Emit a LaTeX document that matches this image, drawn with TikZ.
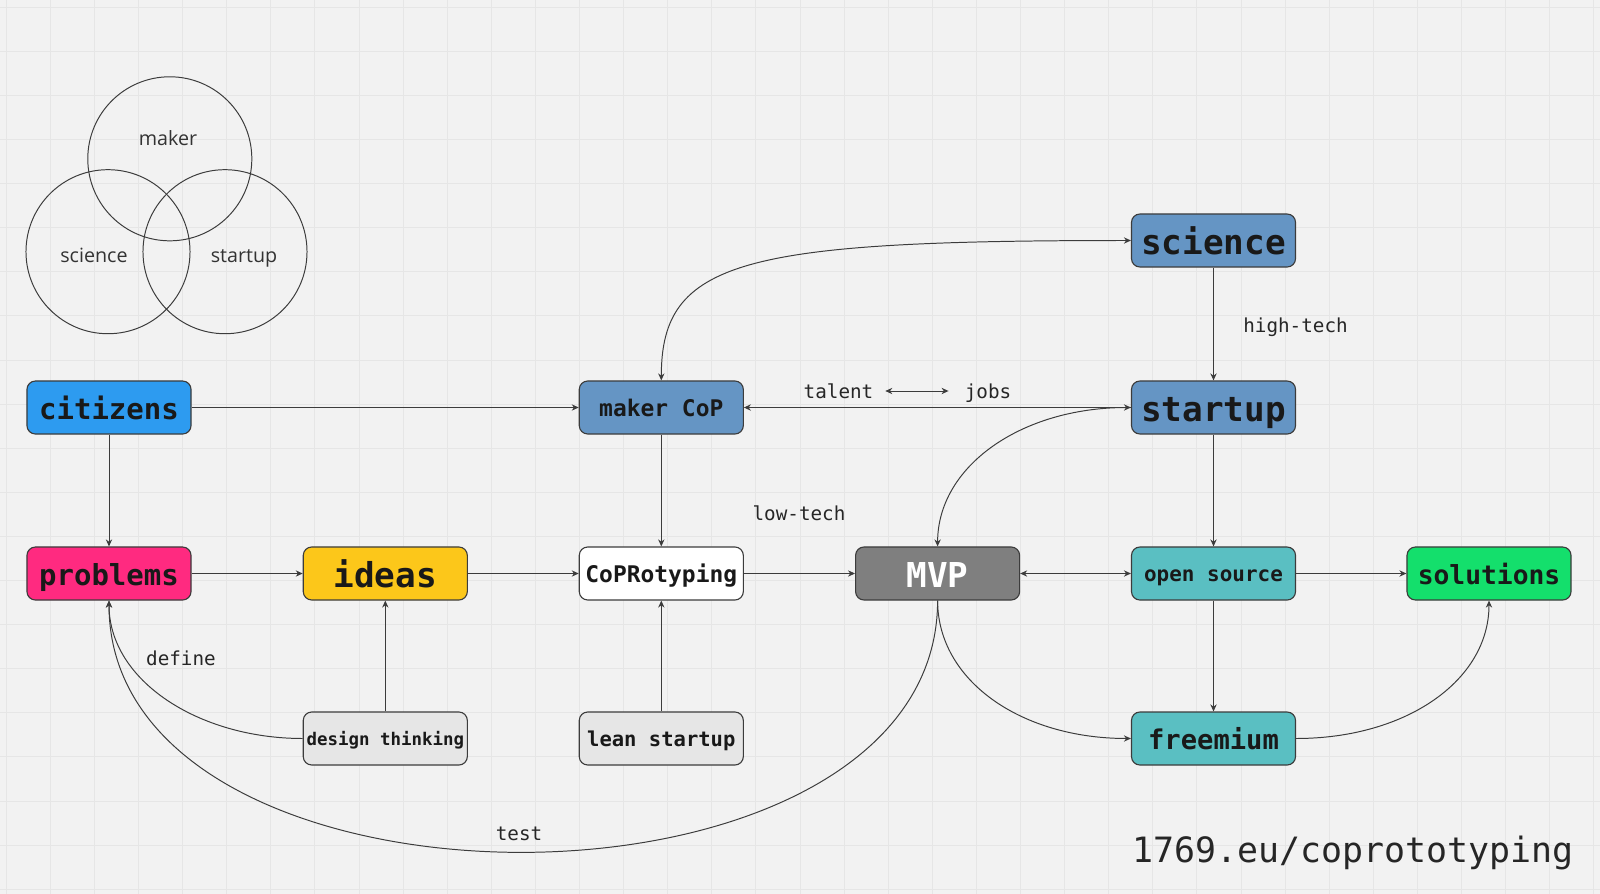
\documentclass[tikz,border=0pt]{standalone}
\usepackage{fontspec}
\setmainfont{Open Sans}
\setmonofont{DejaVu Sans Mono}
\usetikzlibrary{arrows.meta}

\definecolor{paper}{HTML}{F2F2F2}
\definecolor{gridline}{HTML}{E6E6E6}
\definecolor{ink}{HTML}{3C3C3C}
\definecolor{citblue}{HTML}{2D9BF0}
\definecolor{probpink}{HTML}{FF2A80}
\definecolor{ideayellow}{HTML}{FCC71A}
\definecolor{copblue}{HTML}{6595C4}
\definecolor{mvpgray}{HTML}{7F7F7F}
\definecolor{ostea}{HTML}{5ABFC2}
\definecolor{solgreen}{HTML}{14DF6C}
\definecolor{methgray}{HTML}{E6E6E6}

\tikzset{
  box/.style={draw=ink, line width=0.8pt, rounded corners=6pt,
    minimum width=4.1cm, minimum height=1.325cm, inner sep=0pt,
    text height=0.8*#1pt, text depth=0pt,
    text=black!90, font=\ttfamily\bfseries\fontsize{#1}{#1}\selectfont},
  link/.style={draw=ink, line width=0.7pt, ->},
  tag/.style={text=black!85, text height=0.74*#1pt, text depth=0pt,
    font=\ttfamily\fontsize{#1}{#1}\selectfont},
  venn/.style={draw=ink, line width=0.7pt, circle, minimum size=4.1cm, inner sep=0pt},
  vennlabel/.style={text=black!80, text height=10pt, text depth=0pt,
    font=\fontsize{14}{14}\selectfont},
}

\begin{document}
\begin{tikzpicture}[x=0.025cm, y=-0.025cm, >={Stealth[length=5pt,width=4.5pt]}]
        \fill[paper] (0,0) rectangle (1600,894);                        %canvas
        \useasboundingbox (0,0) rectangle (1600,894);
        \foreach \gx in {0,...,36} \draw[gridline, line width=0.4pt] (6+44.1*\gx,0) -- ++(0,894);
        \foreach \gy in {0,...,20} \draw[gridline, line width=0.4pt] (0,7+44.1*\gy) -- ++(1600,0);

        % venn
        \node[venn] (vmaker)   at (169.8,158.8) {};
        \node[venn] (vscience) at (108,251.7)   {};
        \node[venn] (vstartup) at (225,251.7)   {};
        \node[vennlabel] (lmaker)   at (168,138) {maker};
        \node[vennlabel] (lscience) at (94,255)  {science};
        \node[vennlabel] (lstartup) at (244,255) {startup};

        % boxes
        \node[box=24.4, fill=copblue]    (science)   at (1213.5,240.5) {science};
        \node[box=20.6, fill=citblue]    (citizens)  at (109,407.5)    {citizens};
        \node[box=16.3, fill=copblue]    (makercop)  at (661.3,407.5)  {maker CoP};
        \node[box=24.4, fill=copblue]    (startup)   at (1213.5,407.5) {startup};
        \node[box=20.6, fill=probpink]   (problems)  at (109,573.5)    {problems};
        \node[box=24.4, fill=ideayellow] (ideas)     at (385.3,573.5)  {ideas};
        \node[box=16.3, fill=white]      (coproto)   at (661.3,573.5)  {CoPRotyping};
        \node[box=24.4, fill=mvpgray, text=white] (mvp) at (937.6,573.5) {MVP};
        \node[box=14.9, fill=ostea]      (opensrc)   at (1213.5,573.5) {open source};
        \node[box=18.7, fill=solgreen]   (solutions) at (1489,573.5)   {solutions};
        \node[box=12.4, fill=methgray]   (design)    at (385.3,738.5)  {design thinking};
        \node[box=14.6, fill=methgray]   (lean)      at (661.3,738.5)  {lean startup};
        \node[box=19.3, fill=ostea]      (freemium)  at (1213.5,738.5) {freemium};

        % labels
        \node[tag=13.7] (talent)   at (838.5,391) {talent};
        \node[tag=13.7] (jobs)     at (988,391)   {jobs};
        \node[tag=13.7] (lowtech)  at (799,513)   {low-tech};
        \node[tag=13.7] (hightech) at (1295.5,325) {high-tech};
        \node[tag=13.7] (define)   at (181,658)   {define};
        \node[tag=13.7] (test)     at (519,833)   {test};
        \node[tag=24.8] (url)      at (1353,850)  {1769.eu/coprototyping};

        % straight links
        \draw[link] (citizens.east) -- (makercop.west);
        \draw[link] (citizens.south) -- (problems.north);
        \draw[link] (problems.east) -- (ideas.west);
        \draw[link] (ideas.east) -- (coproto.west);
        \draw[link] (coproto.east) -- (mvp.west);
        \draw[link, <->] (mvp.east) -- (opensrc.west);
        \draw[link] (opensrc.east) -- (solutions.west);
        \draw[link] (opensrc.south) -- (freemium.north);
        \draw[link] (startup.south) -- (opensrc.north);
        \draw[link] (science.south) -- (startup.north);
        \draw[link] (startup.west) -- (makercop.east);
        \draw[link] (makercop.south) -- (coproto.north);
        \draw[link] (design.north) -- (ideas.south);
        \draw[link] (lean.north) -- (coproto.south);
        \draw[link, <->, shorten <=5pt, shorten >=8pt] (talent.east) -- (jobs.west);

        % curved links
        \draw[link, <->] (makercop.north) .. controls +(0,-120) and +(-390,0) .. (science.west);
        \draw[link, <->] (startup.west) .. controls +(-110,0) and +(0,-80) .. (mvp.north);
        \draw[link] (mvp.south) .. controls +(0,80) and +(-110,0) .. (freemium.west);
        \draw[link] (freemium.east) .. controls +(110,0) and +(0,80) .. (solutions.south);
        \draw[link] (design.west) .. controls +(-104,0) and +(0,80) .. (problems.south); %define
        \draw[link] (mvp.south) .. controls +(0,335) and +(0,335) .. (problems.south);  %test
\end{tikzpicture}
\end{document}
